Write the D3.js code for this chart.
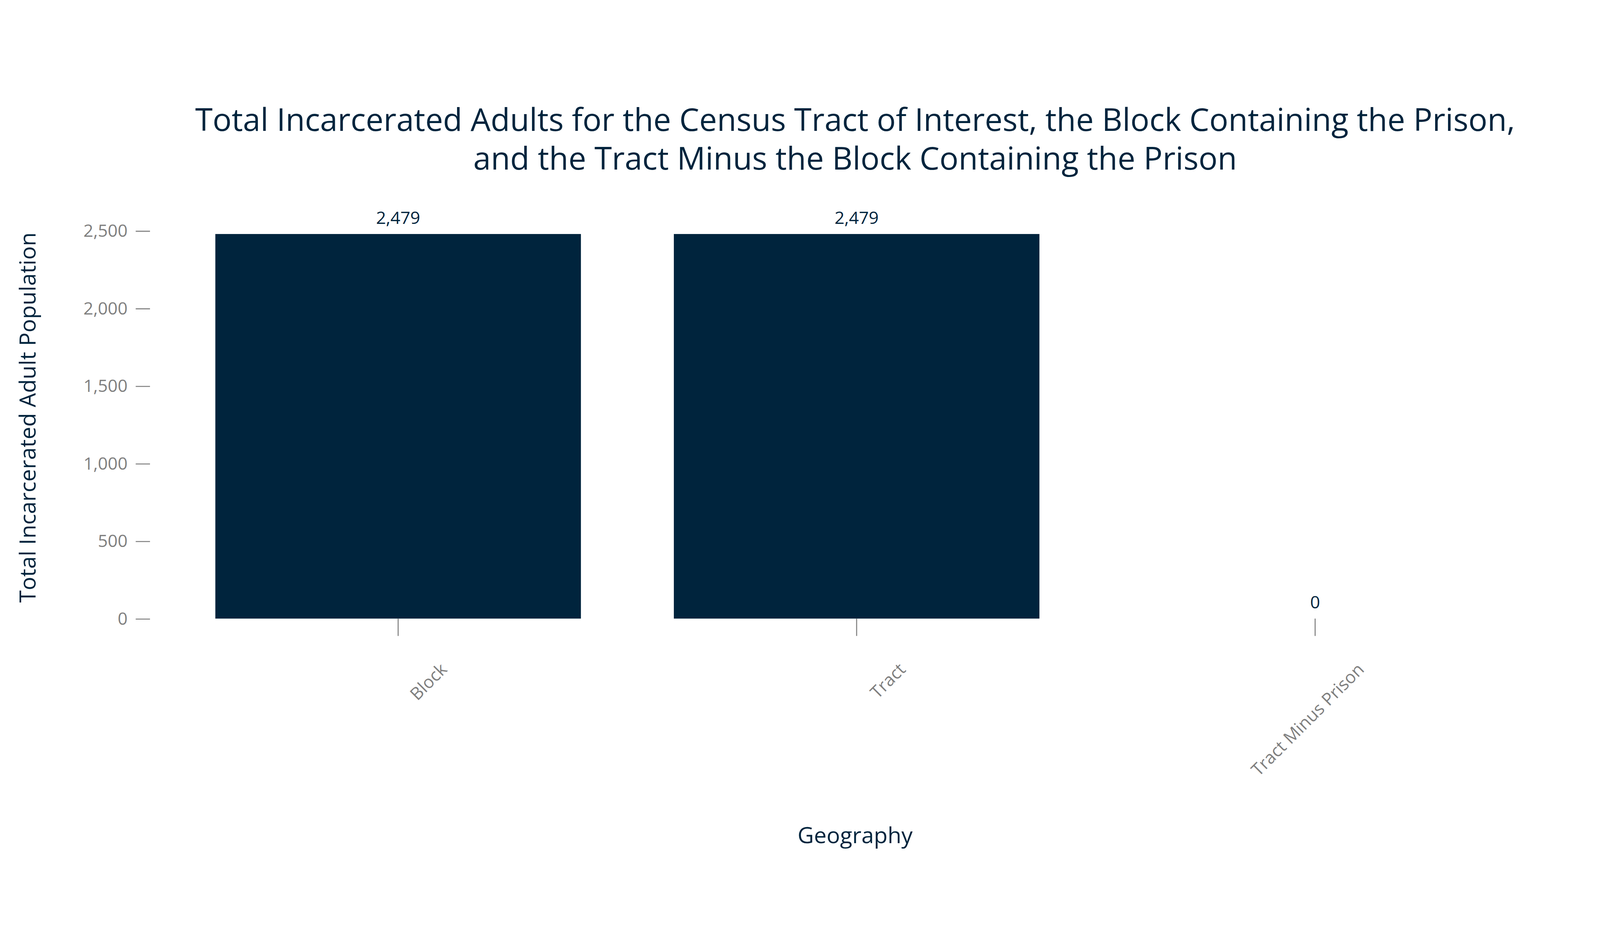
<!DOCTYPE html>
<html><head><meta charset="utf-8">
<script src="https://cdn.jsdelivr.net/npm/d3@7"></script>
<style>html,body{margin:0;padding:0;width:100%;height:100%;overflow:hidden;background:#fff}svg{display:block;width:100vw;height:100vh}text{font-family:"Open Sans",sans-serif}</style>
</head><body><svg id="c" viewBox="0 0 1568 761.6" preserveAspectRatio="xMidYMid meet"></svg>
<script>
const categories = ["Block","Tract","Tract Minus Prison"];
const values = [2479, 2479, 0];
const yTicks = [0,500,1000,1500,2000,2500];
const titleLines = ["Total Incarcerated Adults for the Census Tract of Interest, the Block Containing the Prison,","and the Tract Minus the Block Containing the Prison"];
const svg = d3.select("#c");
const navy = "#00243d", gray = "#7f7f7f";
const x = d3.scaleBand().domain(categories).range([166, 166+449*3]).paddingInner(91/449).paddingOuter(45/449);
const y = d3.scaleLinear().domain([0,2500]).range([521,141]);
svg.selectAll("rect").data(values).join("rect")
  .attr("x",(d,i)=>x(categories[i])).attr("width",x.bandwidth())
  .attr("y",d=>y(d)).attr("height",d=>y(0)-y(d)).attr("fill",navy);
svg.selectAll(".vl").data(values).join("text")
  .attr("x",(d,i)=>x(categories[i])+x.bandwidth()/2).attr("y",d=>y(d)-10)
  .attr("text-anchor","middle").attr("font-size",17).attr("fill",navy)
  .text(d=>d3.format(",")(d));
const ya = svg.append("g").attr("transform","translate(147,0)")
  .call(d3.axisLeft(y).tickValues(yTicks).tickSize(14).tickPadding(8).tickFormat(d3.format(",")));
ya.select(".domain").remove();
ya.selectAll("line").attr("stroke",gray);
ya.selectAll("text").attr("font-size",17).attr("fill",gray);
const xa = svg.append("g").attr("transform","translate(0,521)")
  .call(d3.axisBottom(x).tickSize(17).tickPadding(18));
xa.select(".domain").remove();
xa.selectAll("line").attr("stroke",gray);
xa.selectAll("text").attr("font-size",17).attr("fill",gray)
  .attr("text-anchor","end").attr("dy","0.35em")
  .attr("transform","translate(20,22) rotate(-45)");
svg.append("text").attr("x",838).attr("y",741).attr("text-anchor","middle")
  .attr("font-size",22).attr("fill",navy).text("Geography");
svg.append("text").attr("transform","translate(35,324) rotate(-90)").attr("text-anchor","middle")
  .attr("font-size",22).attr("fill",navy).text("Total Incarcerated Adult Population");
svg.selectAll(".t").data(titleLines).join("text").attr("x",838).attr("y",(d,i)=>43+i*38)
  .attr("text-anchor","middle").attr("font-size",31).attr("fill",navy).text(d=>d);
</script></body></html>
